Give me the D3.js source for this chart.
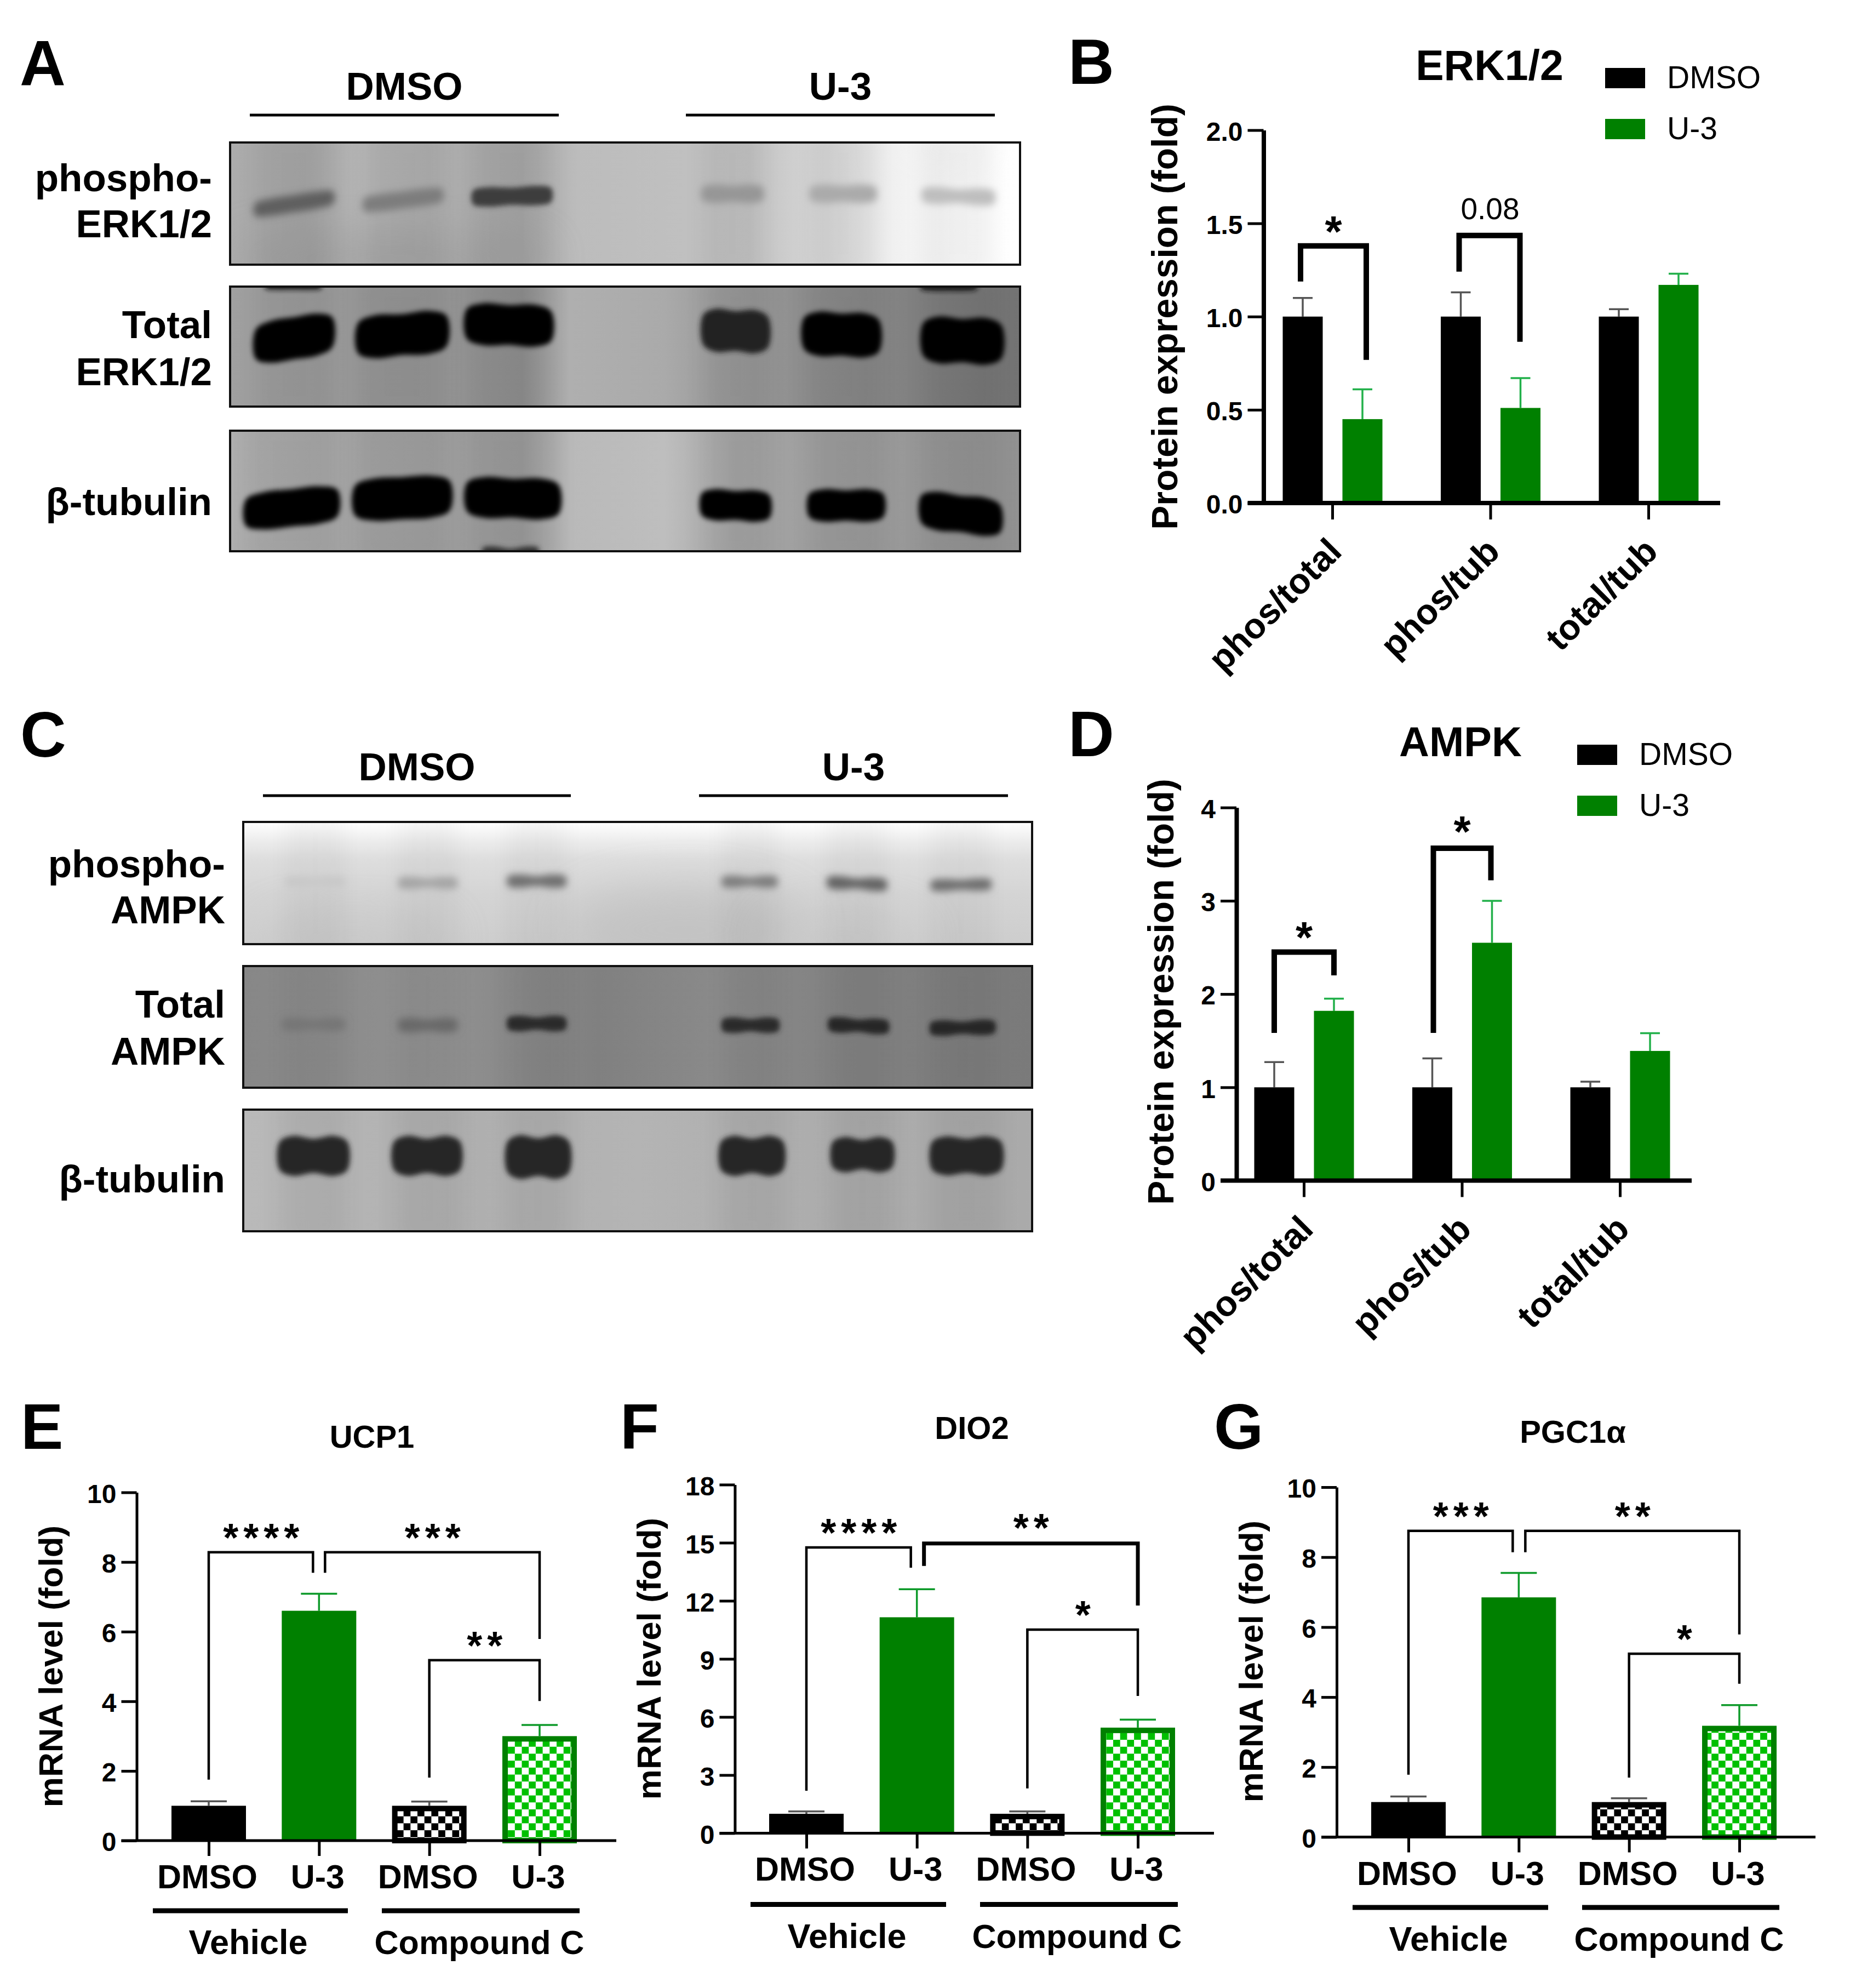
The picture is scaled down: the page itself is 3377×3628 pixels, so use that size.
<!DOCTYPE html>
<html><head><meta charset="utf-8">
<script src="https://cdn.jsdelivr.net/npm/d3@7"></script>
<style>
html,body{margin:0;padding:0;background:#fff}
svg{display:block}
text{font-family:"Liberation Sans",Arial,sans-serif;fill:#000}
</style></head><body>
<svg id="fig" width="3377" height="3628" viewBox="0 0 3377 3628"></svg>
<script>
// ---------- DATA ----------
const proteinCategories = ["phos/total","phos/tub","total/tub"];
const proteinSeries = ["DMSO","U-3"];
const erkDMSO = [1,1,1];
const erkDMSOTop = [1.10,1.13,1.04];
const erkU3 = [0.45,0.51,1.17];
const erkU3Top = [0.61,0.67,1.23];
const erkTicks = [0,0.5,1,1.5,2];
const ampkDMSO = [1,1,1];
const ampkDMSOTop = [1.27,1.31,1.06];
const ampkU3 = [1.82,2.55,1.39];
const ampkU3Top = [1.95,3.0,1.58];
const ampkTicks = [0,1,2,3,4];

const mrnaCategories = ["DMSO","U-3","DMSO","U-3"];
const mrnaGroups = ["Vehicle","Compound C"];
const ucp1Values = [1,6.6,1,3.0];
const ucp1Tops = [1.13,7.09,1.12,3.32];
const ucp1Ticks = [0,2,4,6,8,10];
const dio2Values = [1,11.15,1,5.45];
const dio2Tops = [1.12,12.6,1.12,5.86];
const dio2Ticks = [0,3,6,9,12,15,18];
const pgcValues = [1,6.85,1,3.18];
const pgcTops = [1.16,7.55,1.11,3.77];
const pgcTicks = [0,2,4,6,8,10];

// significance brackets, in data units: [from bar, to bar, top value, from-end value, to-end value, label value, label]
const erkBrackets = [[0,1,1.379,1.188,0.768,1.49,"*"],[2,3,1.435,1.241,0.865,1.523,"0.08"]];
const ampkBrackets = [[0,1,2.45,1.584,2.2,2.68,"*"],[2,3,3.564,1.584,3.22,3.81,"*"]];
const ucp1Brackets = [[0,1,8.28,1.75,7.69,8.86,"****"],[1,3,8.28,7.69,5.79,8.86,"***"],[2,3,5.18,1.81,4.01,5.76,"**"]];
const dio2Brackets = [[0,1,14.76,2.19,13.71,15.8,"****"],[1,3,14.96,13.8,11.76,16.06,"**"],[2,3,10.51,2.31,7.09,11.56,"*"]];
const pgcBrackets = [[0,1,8.75,1.78,8.14,9.33,"***"],[1,3,8.75,8.14,5.79,9.33,"**"],[2,3,5.24,1.70,4.38,5.82,"*"]];

// blot contents, in percent of each frame: [lane centre, lane width, band centre, band height, tilt, grey level, notch]
const bandsAphos = [[8.1,9.9,50,14,-5,95,0],[21.9,9.9,47,14,-4,125,0],[35.7,9.9,44,16,-1,62,1],[63.6,7.6,42,15,0,150,1],[77.6,8.2,42,15,0,170,1],[92.2,9,44,14,1,190,1.5]];
const bandsAtotal = [[8.1,9.7,43,35,-5,4,0],[21.8,11.2,40,36,-3,6,1],[35.3,10.7,32,35,1,2,1],[64,8.2,37,36,1,34,1.5],[77.4,9.5,40,37,1,6,1],[92.7,9.9,45,39,1,4,1.5]];
const bandsAtub = [[7.8,11.6,64,31,-4,2,0],[21.8,12,56,35,-2,2,0],[35.8,11.6,56,34,1,3,1],[64,8.6,62,26,1,3,1],[78,9.4,62,27,0,2,1],[92.5,10,69,32,4,2,1]];
const bandsCphos = [[9.1,7.4,49,8,0,200,1],[23.4,7.3,50,10,0,165,1.5],[37.2,7.3,48.5,11,0,112,1.5],[64.2,6.9,49,10,0,125,1.5],[77.8,7.4,50.5,11,1,100,1.5],[91,7.5,51.5,10,-.5,110,1]];
const bandsCtotal = [[8.9,7.8,48,11,0,118,1.5],[23.4,7.3,48.6,12,0,105,1.5],[37.2,7.3,47.3,13,0,42,1.5],[64.3,7.1,48.6,13,0,42,1.5],[78,7.5,49,13,1,38,1.5],[91.2,8.1,50.7,13,-.5,38,1.5]];
const bandsCtub = [[8.9,8.6,38,33,0,40,2.5],[23.3,8.4,38,33,0,40,2.5],[37.4,7.8,39,36,0,40,2.5],[64.5,7.9,38,33,0,40,2.5],[78.5,7.6,37,29,0,40,2.5],[91.7,8.8,38,32,0,40,2]];
const extrasAtotal = [[8,7,-1,7,0,20,0],[91,7,-1,9,0,20,0]];
const extrasAtub = [[35.5,7,100,8,0,50,2]];
// diffuse haze in the film: [centre, width, band centre, height, grey level, opacity]
const hazeCphos = [[56,30,88,70,185,.55],[14,24,95,40,195,.5],[76,20,95,40,198,.5]];
const hazeAphos = [[20,40,95,40,150,.5],[90,12,5,20,240,.5]];

// ---------- LAYOUT ----------
const svg = d3.select("#fig");
const defs = svg.append("defs");
const GREEN="#008000", HATCH="#00c000";
function blur(id,s){defs.append("filter").attr("id",id).attr("x","-40%").attr("y","-80%").attr("width","180%").attr("height","260%").append("feGaussianBlur").attr("stdDeviation",s);}
blur("b5",5);blur("b7",7);blur("b20",20);blur("b40",40);
function checker(id,col){
  const p=defs.append("pattern").attr("id",id).attr("patternUnits","userSpaceOnUse").attr("width",25.4).attr("height",25.4);
  p.append("rect").attr("width",25.4).attr("height",25.4).attr("fill","#fff");
  p.append("rect").attr("width",12.7).attr("height",12.7).attr("fill",col);
  p.append("rect").attr("x",12.7).attr("y",12.7).attr("width",12.7).attr("height",12.7).attr("fill",col);
}
checker("chkK","#000");checker("chkG",HATCH);

function label(g,txt,x,y,fs,opt={}){
  const t=g.append("text").attr("x",x).attr("y",y).attr("font-size",fs).attr("font-weight",opt.w||"bold").attr("text-anchor",opt.a||"start").text(txt);
  if(opt.ls) t.attr("letter-spacing",opt.ls);
  if(opt.rot) t.attr("transform",`rotate(${opt.rot} ${x} ${y})`);
  return t;
}
[["A",36,156],["B",1950,153],["C",37,1381],["D",1950,1380],["E",38,2644],["F",1132,2644],["G",2216,2644]]
  .forEach(d=>label(svg,d[0],d[1],d[2],116));

// ---------- BLOTS ----------
let gid=0;
function blotRow(frame,stops,bands,extras,vertical,haze){
  const g=svg.append("g"), id="r"+(gid++);
  const px=d3.scaleLinear([0,100],[frame.x0,frame.x1]), py=d3.scaleLinear([0,100],[frame.y0,frame.y1]);
  const grad=defs.append("linearGradient").attr("id",id+"g");
  if(vertical) grad.attr("x2",0).attr("y2",1);
  stops.forEach(s=>grad.append("stop").attr("offset",s[0]+"%").attr("stop-color",d3.rgb(s[1],s[1],s[1])));
  defs.append("clipPath").attr("id",id+"c").append("rect").attr("x",frame.x0).attr("y",frame.y0).attr("width",frame.x1-frame.x0).attr("height",frame.y1-frame.y0);
  const inner=g.append("g").attr("clip-path",`url(#${id}c)`);
  inner.append("rect").attr("x",frame.x0).attr("y",frame.y0).attr("width",frame.x1-frame.x0).attr("height",frame.y1-frame.y0).attr("fill",`url(#${id}g)`);
  inner.selectAll(".haze").data(haze||[]).join("ellipse").attr("class","haze")
    .attr("cx",d=>px(d[0])).attr("rx",d=>(px(d[1])-px(0))/2).attr("cy",d=>py(d[2])).attr("ry",d=>(py(d[3])-py(0))/2)
    .attr("fill",d=>d3.rgb(d[4],d[4],d[4])).attr("opacity",d=>d[5]).attr("filter","url(#b40)");
  inner.selectAll(".smear").data(bands).join("rect").attr("class","smear")
    .attr("x",d=>px(d[0]-d[1]/2)).attr("width",d=>px(d[1])-px(0))
    .attr("y",frame.y0-30).attr("height",frame.y1-frame.y0+60)
    .attr("fill","#000").attr("opacity",frame.smear).attr("filter","url(#b20)");
  const shape=d3.line().curve(d3.curveCatmullRomClosed);
  const path=d=>{
    const [c,w,yc,h,tilt,,notch]=d, top=[],bot=[];
    [-1,-.6,0,.6,1].forEach(t=>{
      const n=t===0?notch:0, e=Math.abs(t)===1?0.15:0;
      top.push([px(c+t*w/2),py(yc+tilt*t-h/2+h*e+n)]);
      bot.unshift([px(c+t*w/2),py(yc+tilt*t+h/2-h*e-n)]);
    });
    return shape(top.concat(bot));
  };
  inner.selectAll(".band").data(bands.concat(extras||[])).join("path").attr("class","band")
    .attr("d",path).attr("fill",d=>d3.rgb(d[5],d[5],d[5])).attr("filter",d=>d[5]>90?"url(#b7)":"url(#b5)");
  g.append("rect").attr("x",frame.x0).attr("y",frame.y0).attr("width",frame.x1-frame.x0).attr("height",frame.y1-frame.y0)
    .attr("fill","none").attr("stroke","#111").attr("stroke-width",4);
}
blotRow({x0:420,x1:1862,y0:260,y1:483,smear:.05},[[0,172],[10,168],[17,182],[25,175],[37,168],[44,188],[58,192],[66,195],[75,215],[84,240],[92,253],[100,255]],bandsAphos,null,false,hazeAphos);
blotRow({x0:420,x1:1862,y0:523,y1:742,smear:.05},[[0,160],[15,152],[30,148],[37,142],[43,175],[55,170],[62,155],[75,140],[90,125],[100,115]],bandsAtotal,extrasAtotal);
blotRow({x0:420,x1:1862,y0:786,y1:1006,smear:.05},[[0,175],[15,165],[37,155],[43,185],[55,190],[64,165],[80,155],[100,145]],bandsAtub,extrasAtub);
blotRow({x0:444,x1:1884,y0:1500,y1:1723,smear:.03},[[0,255],[16,236],[30,222],[60,212],[100,205]],bandsCphos,null,true,hazeCphos);
blotRow({x0:444,x1:1884,y0:1763,y1:1985,smear:.04},[[0,135],[25,145],[45,128],[60,138],[80,128],[100,122]],bandsCtotal);
blotRow({x0:444,x1:1884,y0:2025,y1:2247,smear:.05},[[0,185],[30,175],[50,180],[75,172],[100,170]],bandsCtub);

function blotHeader(lines,labels){
  lines.forEach((l,i)=>{
    svg.append("line").attr("x1",l.x0).attr("x2",l.x1).attr("y1",l.y).attr("y2",l.y).attr("stroke","#000").attr("stroke-width",5);
    label(svg,proteinSeries[i],(l.x0+l.x1)/2,l.y-28,71,{a:"middle"});
  });
  labels.forEach(d=>label(svg,d[0],d[1],d[2],71,{a:"end"}));
}
blotHeader([{x0:456,x1:1020,y:210},{x0:1252,x1:1816,y:210}],
  [["phospho-",387,349],["ERK1/2",387,433],["Total",387,617],["ERK1/2",387,703],["β-tubulin",387,940]]);
blotHeader([{x0:480,x1:1042,y:1452},{x0:1276,x1:1840,y:1452}],
  [["phospho-",411,1601],["AMPK",411,1685],["Total",411,1857],["AMPK",411,1943],["β-tubulin",411,2176]]);

// ---------- BAR CHART HELPERS ----------
function styleAxis(g,w,tw){
  g.select(".domain").attr("stroke","#000").attr("stroke-width",w);
  g.selectAll(".tick line").attr("stroke","#000").attr("stroke-width",tw);
}
function drawError(g,pts,col,capW,sw){
  g.selectAll(null).data(pts).join("line").attr("x1",d=>d.x).attr("x2",d=>d.x).attr("y1",d=>d.y0).attr("y2",d=>d.y1).attr("stroke",col).attr("stroke-width",sw);
  g.selectAll(null).data(pts).join("line").attr("x1",d=>d.x-capW/2).attr("x2",d=>d.x+capW/2).attr("y1",d=>d.y1).attr("y2",d=>d.y1).attr("stroke",col).attr("stroke-width",sw);
}
function drawBrackets(g,list,barX,y,nudge,sw,starFs,widths){
  list.forEach((b,i)=>{
    const x0=barX(b[0])+nudge[i][0], x1=barX(b[1])+nudge[i][1];
    g.append("path").attr("fill","none").attr("stroke","#000").attr("stroke-width",widths?widths[i]:sw)
      .attr("d",d3.line()([[x0,y(b[3])],[x0,y(b[2])],[x1,y(b[2])],[x1,y(b[4])]]));
    const cx=(x0+x1)/2;
    if(b[6].includes("*")) label(g,b[6],cx+5,y(b[5])+starFs*.49,starFs,{a:"middle",ls:starFs*.125});
    else label(g,b[6],cx+1,y(b[5]),55,{a:"middle",w:"normal"});
  });
}

function proteinPanel(c){
  const g=svg.append("g");
  const y=d3.scaleLinear([0,c.max],[c.zero,c.top]);
  const x=d3.scalePoint(proteinCategories,[c.first,c.first+2*c.step]);
  const inner=d3.scalePoint(proteinSeries,[-54,55]);
  const bw=73;
  const series=[[c.dmso,c.dmsoTop,"#000","#555"],[c.u3,c.u3Top,GREEN,"#22b04a"]];
  series.forEach((s,k)=>{
    const name=proteinSeries[k];
    drawError(g,proteinCategories.map((cat,i)=>({x:x(cat)+inner(name),y0:y(s[0][i]),y1:y(s[1][i])})),s[3],36,3.5);
    g.selectAll(null).data(proteinCategories).join("rect")
      .attr("x",d=>x(d)+inner(name)-bw/2).attr("width",bw)
      .attr("y",(d,i)=>y(s[0][i])).attr("height",(d,i)=>c.zero-y(s[0][i])).attr("fill",s[2]);
  });
  const ya=g.append("g").attr("transform",`translate(${c.axisX},0)`).call(d3.axisLeft(y).tickValues(c.ticks).tickSize(29).tickSizeOuter(0).tickFormat(d3.format(c.fmt)));
  styleAxis(ya,8,5);
  ya.selectAll("text").attr("font-size",c.tickFs).attr("font-weight","bold").attr("font-family",null).attr("x",-38).attr("dy",".39em");
  const xa=g.append("g").attr("transform",`translate(0,${c.zero})`).call(d3.axisBottom(x).tickSize(30).tickSizeOuter(0));
  xa.select(".domain").remove();
  xa.selectAll(".tick line").attr("stroke","#000").attr("stroke-width",5);
  xa.selectAll("text").attr("font-size",65).attr("font-weight","bold").attr("font-family",null).attr("text-anchor","end").attr("dy",0).attr("x",0).attr("y",0)
    .attr("transform","translate(20,92) rotate(-45)");
  g.append("line").attr("x1",c.axisX-29).attr("x2",c.axisEnd).attr("y1",c.zero).attr("y2",c.zero).attr("stroke","#000").attr("stroke-width",8);
  const barX=i=>x(proteinCategories[Math.floor(i/2)])+inner(proteinSeries[i%2]);
  drawBrackets(g,c.brackets,barX,y,c.nudge,10,80);
  label(g,c.title,c.titleX,c.titleY,c.titleFs,{a:"middle"});
  label(g,"Protein expression (fold)",c.yTitleX,c.yTitleY,66,{a:"middle",rot:-90});
  proteinSeries.forEach((s,i)=>{
    g.append("rect").attr("x",c.legX).attr("y",c.legY[i]-37).attr("width",73).attr("height",37).attr("fill",i?GREEN:"#000");
    label(g,s,c.legX+113,c.legY[i],57,{w:"normal"});
  });
}
proteinPanel({dmso:erkDMSO,dmsoTop:erkDMSOTop,u3:erkU3,u3Top:erkU3Top,max:2,ticks:erkTicks,fmt:".1f",tickFs:48,
  zero:918,top:237.5,axisX:2306.5,axisEnd:3140,first:2432,step:288.5,brackets:erkBrackets,nudge:[[-4,7],[-3,-1]],
  title:"ERK1/2",titleFs:77,titleX:2719,titleY:146,yTitleX:2149,yTitleY:578,legX:2930,legY:[161,254]});
proteinPanel({dmso:ampkDMSO,dmsoTop:ampkDMSOTop,u3:ampkU3,u3Top:ampkU3Top,max:4,ticks:ampkTicks,fmt:"d",tickFs:48,
  zero:2154.5,top:1473.7,axisX:2257,axisEnd:3088,first:2380,step:288.5,brackets:ampkBrackets,nudge:[[0,0],[2,-2]],
  title:"AMPK",titleFs:76,titleX:2666,titleY:1380,yTitleX:2142,yTitleY:1810,legX:2879,legY:[1396,1489]});

function mrnaPanel(c){
  const g=svg.append("g");
  const y=d3.scaleLinear([0,c.max],[c.zero,c.top]);
  const ids=mrnaCategories.map((d,i)=>i);
  const x=d3.scalePoint(ids,[c.first,c.last]);
  const bw=136, fills=["#000",GREEN,"url(#chkK)","url(#chkG)"], edge=[null,null,"#000",GREEN];
  drawError(g,ids.filter(i=>i%2==0).map(i=>({x:x(i),y0:y(c.values[i]),y1:y(c.tops[i])})),"#555",66,3.5);
  drawError(g,ids.filter(i=>i%2==1).map(i=>({x:x(i),y0:y(c.values[i]),y1:y(c.tops[i])})),"#0e9a2a",66,3.5);
  g.selectAll(null).data(ids).join("rect")
    .attr("x",i=>x(i)-bw/2+(edge[i]?5:0)).attr("width",i=>bw-(edge[i]?10:0))
    .attr("y",i=>y(c.values[i])+(edge[i]?5:0)).attr("height",i=>c.zero-y(c.values[i])-(edge[i]?5:0))
    .attr("fill",i=>fills[i]).attr("stroke",i=>edge[i]).attr("stroke-width",i=>edge[i]?10:0);
  const ya=g.append("g").attr("transform",`translate(${c.axisX},0)`).call(d3.axisLeft(y).tickValues(c.ticks).tickSize(28).tickSizeOuter(0));
  styleAxis(ya,5,5);
  ya.selectAll("text").attr("font-size",48).attr("font-weight","bold").attr("font-family",null).attr("x",-37).attr("dy",".39em");
  const xa=g.append("g").attr("transform",`translate(0,${c.zero})`).call(d3.axisBottom(x).tickSize(28).tickSizeOuter(0).tickFormat(i=>mrnaCategories[i]));
  xa.select(".domain").remove();
  xa.selectAll(".tick line").attr("stroke","#000").attr("stroke-width",5);
  xa.selectAll("text").attr("font-size",61).attr("font-weight","bold").attr("font-family",null).attr("dy",0).attr("y",87).attr("x",-3);
  g.append("line").attr("x1",c.axisX-28).attr("x2",c.axisEnd).attr("y1",c.zero).attr("y2",c.zero).attr("stroke","#000").attr("stroke-width",5);
  drawBrackets(g,c.brackets,x,y,c.nudge,4.5,72,c.bw);
  mrnaGroups.forEach((s,i)=>{
    const l=c.groups[i];
    g.append("line").attr("x1",l[0]).attr("x2",l[1]).attr("y1",c.lineY).attr("y2",c.lineY).attr("stroke","#000").attr("stroke-width",9);
    label(g,s,l[2],c.lineY+79,i?61:63,{a:"middle"});
  });
  label(g,c.title,c.titleX,c.titleY,58,{a:"middle"});
  label(g,"mRNA level (fold)",c.yTitleX,c.yTitleY,62,{a:"middle",rot:-90});
}
mrnaPanel({values:ucp1Values,tops:ucp1Tops,max:10,ticks:ucp1Ticks,zero:3359,top:2723.5,axisX:249.5,axisEnd:1125,first:381,last:985,
  brackets:ucp1Brackets,nudge:[[0,-11],[11,0],[0,0]],lineY:3487,groups:[[279,635,453],[697,1058,875]],title:"UCP1",titleX:679,titleY:2642,yTitleX:114,yTitleY:3041});
mrnaPanel({values:dio2Values,tops:dio2Tops,max:18,ticks:dio2Ticks,zero:3345.4,top:2709.4,axisX:1341.4,axisEnd:2216,first:1472,last:2077,
  brackets:dio2Brackets,nudge:[[0,-11],[13,0],[0,0]],bw:[4.5,7,4.5],lineY:3475.5,groups:[[1370,1727,1546],[1789,2150,1966]],title:"DIO2",titleX:1774,titleY:2626,yTitleX:1206,yTitleY:3027});
mrnaPanel({values:pgcValues,tops:pgcTops,max:10,ticks:pgcTicks,zero:3352.5,top:2714,axisX:2440,axisEnd:3314,first:2571,last:3175,
  brackets:pgcBrackets,nudge:[[0,-11],[12,0],[0,0]],lineY:3481,groups:[[2469,2826,2644],[2888,3248,3065]],title:"PGC1α",titleX:2871,titleY:2633,yTitleX:2305,yTitleY:3032});
</script>
</body></html>
